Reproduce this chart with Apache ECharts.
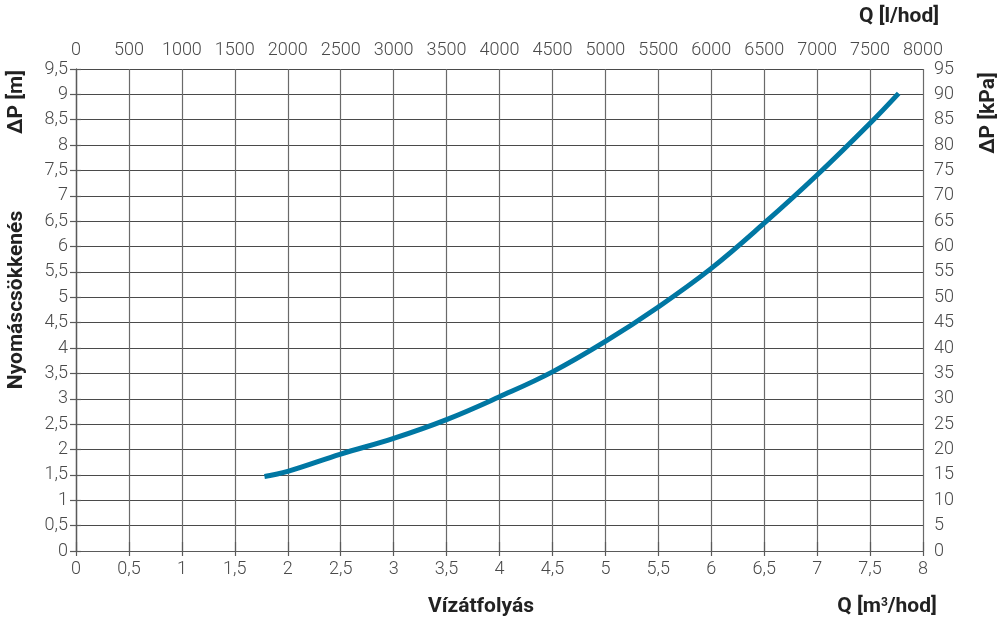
<!DOCTYPE html>
<html>
<head>
<meta charset="utf-8">
<script src="https://cdn.jsdelivr.net/npm/echarts@6/dist/echarts.min.js"></script>
<style>
html,body{margin:0;padding:0;background:#fff;}
#c{width:1008px;height:625px;}
</style>
</head>
<body>
<div id="c"></div>
<script>
// Data
var flowM3h = [1.78, 2.0, 2.5, 3.0, 3.5, 4.0, 4.5, 5.0, 5.5, 6.0, 6.5, 7.0, 7.5, 7.77];
var dropM   = [1.47, 1.57, 1.91, 2.22, 2.59, 3.04, 3.53, 4.13, 4.81, 5.57, 6.46, 7.41, 8.43, 9.02];
var bottomAxisRange = [0, 8, 0.5];
var topAxisRange = [0, 8000, 500];
var leftAxisRange = [0, 9.5, 0.5];
var rightAxisRange = [0, 95, 5];

var labelFont = '"Roboto", "DejaVu Sans", sans-serif';
var titleFont = '"Roboto", "DejaVu Sans", sans-serif';
var lineCol = '#5a5a5a';
var labCol = '#4a4a4a';

function fmt(v){ return String(v).replace('.', ','); }
function plain(v){ return String(v); }

var chart = echarts.init(document.getElementById('c'), null, {renderer:'canvas'});
var seriesData = flowM3h.map(function(q,i){ return [q, dropM[i]]; });

var axisLineStyle = {show:true, lineStyle:{color:lineCol, width:1.2}};
var lab = {color:labCol, fontFamily:labelFont, fontSize:18, fontWeight:300};

chart.setOption({
  animation:false,
  backgroundColor:'#fff',
  grid:{left:76, right:85, top:69, bottom:74, containLabel:false},
  xAxis:[
    {type:'value', position:'bottom', min:bottomAxisRange[0], max:bottomAxisRange[1], interval:bottomAxisRange[2],
     axisLine:axisLineStyle,
     axisTick:{show:true, length:5, lineStyle:{color:lineCol, width:1.2}},
     axisLabel:Object.assign({formatter:fmt, margin:9}, lab),
     splitLine:{show:true, lineStyle:{color:'#6a6a6a', width:1.2}}},
    {type:'value', position:'top', min:topAxisRange[0], max:topAxisRange[1], interval:topAxisRange[2],
     axisLine:axisLineStyle,
     axisTick:{show:true, length:9, lineStyle:{color:lineCol, width:1.2}},
     axisLabel:Object.assign({formatter:plain, margin:10}, lab),
     splitLine:{show:false}}
  ],
  yAxis:[
    {type:'value', position:'left', min:leftAxisRange[0], max:leftAxisRange[1], interval:leftAxisRange[2],
     axisLine:axisLineStyle,
     axisTick:{show:true, length:6, lineStyle:{color:lineCol, width:1.2}},
     axisLabel:Object.assign({formatter:fmt, margin:8}, lab),
     splitLine:{show:true, lineStyle:{color:'#4a4a4a', width:1.2}}},
    {type:'value', position:'right', min:rightAxisRange[0], max:rightAxisRange[1], interval:rightAxisRange[2],
     axisLine:axisLineStyle,
     axisTick:{show:true, length:5, lineStyle:{color:lineCol, width:1.2}},
     axisLabel:Object.assign({formatter:plain, margin:11}, lab),
     splitLine:{show:false}}
  ],
  series:[{
    type:'line', xAxisIndex:0, yAxisIndex:0, data:seriesData, smooth:0.4,
    showSymbol:false, symbol:'none',
    lineStyle:{color:'#0077a3', width:5, cap:'butt'}
  }],
  graphic:[
    {type:'text', x:899, y:17, style:{text:'Q [l/hod]', font:'bold 21px '+titleFont, fill:'#222', textAlign:'center', textVerticalAlign:'middle'}},
    {type:'text', x:887, y:607, style:{rich:{b:{font:'bold 21px '+titleFont, fill:'#222'}, s:{font:'bold 12px '+titleFont, fill:'#222', verticalAlign:'top', padding:[0,0,9,0]}}, text:'{b|Q [m}{s|3}{b|/hod]}', textAlign:'center', textVerticalAlign:'middle'}},
    {type:'text', x:481, y:607, style:{text:'Vízátfolyás', font:'bold 21px '+titleFont, fill:'#222', textAlign:'center', textVerticalAlign:'middle'}},
    {type:'text', x:17, y:102, rotation:Math.PI/2, style:{text:'ΔP [m]', font:'bold 21px '+titleFont, fill:'#222', textAlign:'center', textVerticalAlign:'middle'}},
    {type:'text', x:17, y:300, rotation:Math.PI/2, style:{text:'Nyomáscsökkenés', font:'bold 21px '+titleFont, fill:'#222', textAlign:'center', textVerticalAlign:'middle'}},
    {type:'text', x:989, y:113, rotation:Math.PI/2, style:{text:'ΔP [kPa]', font:'bold 21px '+titleFont, fill:'#222', textAlign:'center', textVerticalAlign:'middle'}}
  ]
});
</script>
</body>
</html>
